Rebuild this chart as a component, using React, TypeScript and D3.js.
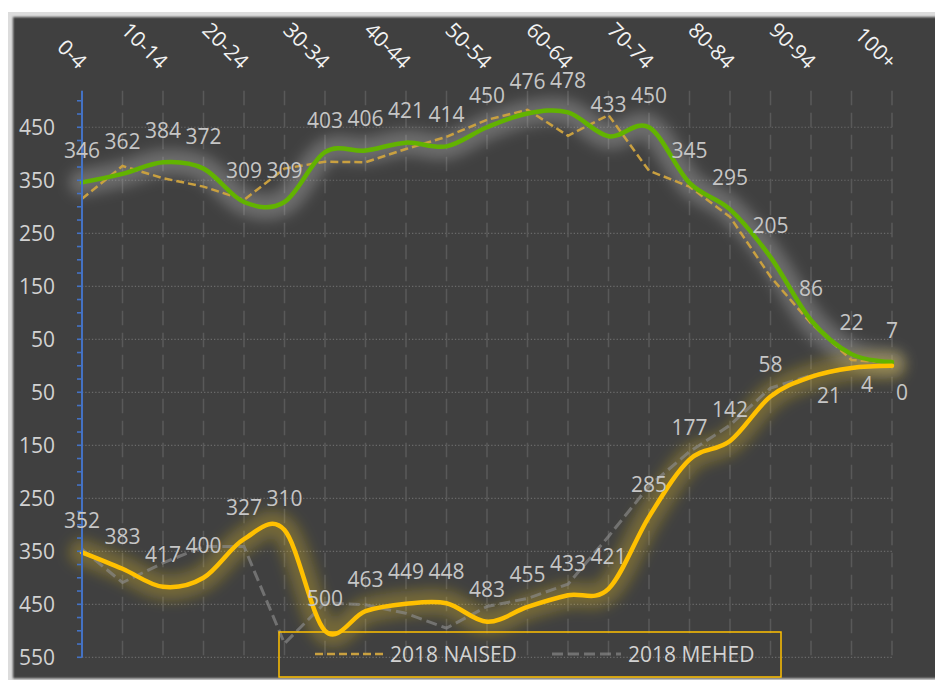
import React from "react";
import * as d3 from "d3";

// ---- data ----
const categories = [
  "0-4", "5-9", "10-14", "15-19", "20-24", "25-29", "30-34", "35-39", "40-44", "45-49",
  "50-54", "55-59", "60-64", "65-69", "70-74", "75-79", "80-84", "85-89", "90-94", "95-99", "100+",
];
// solid green series (women, labelled)
const naisedNew = [346, 362, 384, 372, 309, 309, 403, 406, 421, 414, 450, 476, 478, 433, 450, 345, 295, 205, 86, 22, 7];
// solid yellow series (men, labelled, drawn below zero)
const mehedNew = [352, 383, 417, 400, 327, 310, 500, 463, 449, 448, 483, 455, 433, 421, 285, 177, 142, 58, 21, 4, 0];
// dashed 2018 series
const naised2018 = [315, 377, 354, 338, 313, 372, 385, 384, 409, 432, 464, 483, 434, 473, 368, 338, 281, 168, 80, 11, 5];
const mehed2018 = [346, 409, 372, 341, 341, 524, 447, 451, 467, 495, 454, 439, 412, 322, 227, 162, 112, 42, 18, 5, 0];
const yTicks = [-550, -450, -350, -250, -150, -50, 50, 150, 250, 350, 450];
const legendLabels = ["2018 NAISED", "2018 MEHED"];

const FONT = "'Open Sans', 'DejaVu Sans', sans-serif";

export default function App() {
  const W = 935;
  const H = 680;
  const x = d3.scalePoint<string>().domain(categories).range([82, 892]).padding(0);
  const y = d3.scaleLinear().domain([-550, 519]).range([657.3, 90.7]);

  const minorTicks = d3.range(-550, 501, 25);

  const smooth = d3
    .line<number>()
    .x((_, i) => x(categories[i]) as number)
    .y((d) => y(d))
    .curve(d3.curveCardinal.tension(0));
  const straight = d3
    .line<number>()
    .x((_, i) => x(categories[i]) as number)
    .y((d) => y(d));

  const greenPath = smooth(naisedNew) || "";
  const yellowPath = smooth(mehedNew.map((v) => -v)) || "";
  const goldPath = straight(naised2018) || "";
  const greyPath = straight(mehed2018.map((v) => -v)) || "";

  // manual nudges of a few labels (center offset relative to point)
  const yellowNudge: Record<number, [number, number]> = {
    18: [18, 18.5],
    19: [15.5, 17],
    20: [10, 26.7],
  };

  const labelColor = "#c6c6c6";

  return (
    <svg
      width={W}
      height={H}
      viewBox={`0 0 ${W} ${H}`}
      style={{ position: "fixed", left: 0, top: 0, display: "block" }}
    >
      <defs>
        <filter id="blurGlow" x="-20%" y="-20%" width="140%" height="140%">
          <feGaussianBlur stdDeviation="6.5" />
        </filter>
        <filter id="edge" x="-5%" y="-5%" width="110%" height="110%">
          <feGaussianBlur stdDeviation="1.2" />
        </filter>
      </defs>
      <rect x={0} y={0} width={W} height={H} fill="#ffffff" />
      {/* frame */}
      <rect x={8} y={12} width={940} height={680} fill="#dcdcdc" />
      <rect x={13} y={17} width={940} height={661.5} fill="#404040" filter="url(#edge)" />
      <rect x={15} y={19} width={940} height={657} fill="#404040" />

      {/* horizontal dotted gridlines */}
      {yTicks.map((t) => (
        <line
          key={"h" + t}
          x1={82}
          x2={892}
          y1={y(t)}
          y2={y(t)}
          stroke="#6a6a6a"
          strokeWidth={1.2}
          strokeDasharray="1.3 2"
        />
      ))}
      {/* vertical dashed gridlines */}
      {categories.map((c) => (
        <line
          key={"v" + c}
          x1={x(c)}
          x2={x(c)}
          y1={y(519)}
          y2={y(-550)}
          stroke="#595959"
          strokeWidth={1.5}
          strokeDasharray="14.5 7.5"
        />
      ))}

      {/* glows */}
      <path d={greenPath} fill="none" stroke="#c8c8c8" strokeOpacity={0.32} strokeWidth={26} strokeLinecap="round" strokeLinejoin="round" filter="url(#blurGlow)" />
      <path d={yellowPath} fill="none" stroke="#ffd21a" strokeOpacity={0.27} strokeWidth={26} strokeLinecap="round" strokeLinejoin="round" filter="url(#blurGlow)" />

      {/* dashed 2018 series */}
      <path d={goldPath} fill="none" stroke="#c9a040" strokeWidth={2.5} strokeDasharray="8 4" />
      <path d={greyPath} fill="none" stroke="#8c8c8c" strokeOpacity={0.65} strokeWidth={3} strokeDasharray="11 5" />

      {/* solid series */}
      <path d={greenPath} fill="none" stroke="#62b300" strokeWidth={4.5} strokeLinecap="round" />
      <path d={yellowPath} fill="none" stroke="#ffc000" strokeWidth={4.5} strokeLinecap="round" />

      {/* y axis */}
      <line x1={82} x2={82} y1={y(519)} y2={y(-550)} stroke="#4472c4" strokeWidth={2} />
      {minorTicks.map((t) => (
        <line key={"t" + t} x1={77} x2={82} y1={y(t)} y2={y(t)} stroke="#4472c4" strokeWidth={1.6} />
      ))}
      {yTicks.map((t) => (
        <text
          key={"yl" + t}
          x={55}
          y={y(t) + 7.5}
          textAnchor="end"
          fontFamily={FONT}
          fontSize={21}
          fill="#d2d2d2"
        >
          {Math.abs(t)}
        </text>
      ))}

      {/* category labels */}
      {categories.map((c, i) =>
        i % 2 === 0 ? (
          <text
            key={"c" + c}
            transform={`translate(${(x(c) as number) + 1},65) rotate(45)`}
            textAnchor="end"
            y={7.5}
            fontFamily={FONT}
            fontSize={21}
            fill="#f2f2f2"
          >
            {c}
          </text>
        ) : null
      )}

      {/* data labels */}
      {naisedNew.map((v, i) => (
        <text
          key={"gl" + i}
          x={x(categories[i])}
          y={y(v) - 32 + 7.5}
          textAnchor="middle"
          fontFamily={FONT}
          fontSize={21}
          fill={labelColor}
        >
          {v}
        </text>
      ))}
      {mehedNew.map((v, i) => {
        const n = yellowNudge[i] || [0, -32];
        return (
          <text
            key={"yl2" + i}
            x={(x(categories[i]) as number) + n[0]}
            y={y(-v) + n[1] + 7.5}
            textAnchor="middle"
            fontFamily={FONT}
            fontSize={21}
            fill={labelColor}
          >
            {v}
          </text>
        );
      })}

      {/* legend */}
      <rect x={279} y={632} width={502} height={45} fill="none" stroke="#ffc000" strokeWidth={1.5} />
      <line x1={315} x2={385} y1={654} y2={654} stroke="#c9a040" strokeWidth={2.5} strokeDasharray="8 4" />
      <text x={390} y={661.7} fontFamily={FONT} fontSize={21} fill="#d2d2d2">
        {legendLabels[0]}
      </text>
      <line x1={552} x2={621} y1={654} y2={654} stroke="#8c8c8c" strokeOpacity={0.65} strokeWidth={3} strokeDasharray="11 5" />
      <text x={628} y={661.7} fontFamily={FONT} fontSize={21} fill="#d2d2d2">
        {legendLabels[1]}
      </text>
    </svg>
  );
}
